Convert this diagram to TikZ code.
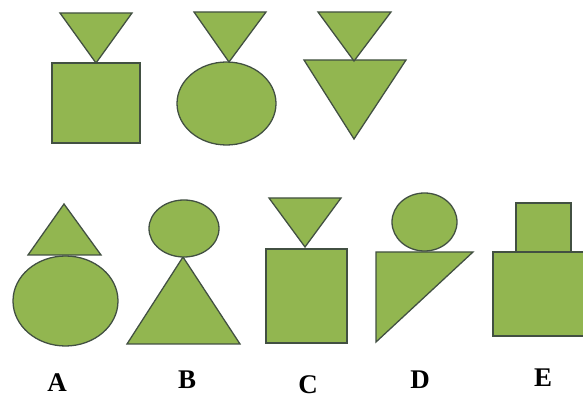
\documentclass[tikz,border=0pt]{standalone}
\usepackage{fontspec}
\setmainfont{Liberation Serif}
\usetikzlibrary{positioning}
\definecolor{leaf}{RGB}{146,182,80}
\definecolor{rim}{RGB}{66,80,66}

\begin{document}
\begin{tikzpicture}[
    x=0.03cm, y=-0.03cm,
    part/.style = {fill=leaf, draw=rim, line width=1.1pt, line join=miter},
    tag/.style  = {font=\bfseries\fontsize{23}{25}\selectfont, inner sep=0pt}
  ]
  \useasboundingbox (0,0) rectangle (583,399);

  % --- top row ---
  \draw[part] (52,63) rectangle (140,143);
  \draw[part] (60,13) -- (132,13) -- (96,63) -- cycle;

  \draw[part] (226.5,103.5) ellipse [x radius=49.5, y radius=41.5];
  \draw[part] (194,12) -- (266,12) -- (229,62) -- cycle;

  \draw[part] (304,60) -- (406,60) -- (354,139) -- cycle;
  \draw[part] (318,12) -- (391,12) -- (354,61) -- cycle;

  % --- answers ---
  \draw[part] (65.5,301) ellipse [x radius=52.5, y radius=45];
  \draw[part] (64,204) -- (101,255) -- (28,255) -- cycle;

  \draw[part] (183,257) -- (240,344) -- (127,344) -- cycle;
  \draw[part] (184,228.5) ellipse [x radius=35, y radius=28.5];

  \draw[part] (266,249) rectangle (347,343);
  \draw[part] (269,198) -- (341,198) -- (305,247) -- cycle;

  \draw[part] (376,252) -- (473,252) -- (376,342) -- cycle;
  \draw[part] (424.5,222) ellipse [x radius=32.5, y radius=29];

  \draw[part] (493,252) rectangle (600,336);
  \draw[part] (516,203) rectangle (571,252);

  % --- labels ---
  \node[tag] (labA) at (57,383)  {A};
  \node[tag] (labB) at (187,380) {B};
  \node[tag] (labC) at (308,385) {C};
  \node[tag] (labD) at (420,380) {D};
  \node[tag] (labE) at (543,378) {E};

\end{tikzpicture}
\end{document}
